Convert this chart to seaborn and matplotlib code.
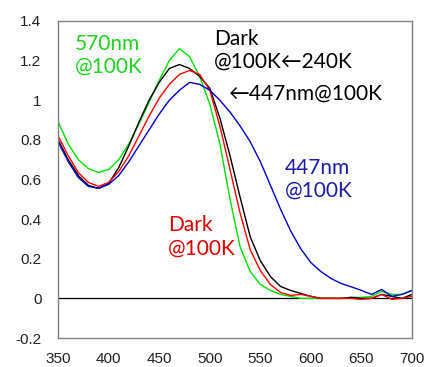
import numpy as np
import pandas as pd
import matplotlib
matplotlib.use('Agg')
import matplotlib.pyplot as plt
import seaborn as sns

# wavelength grid (nm)
wl = list(range(350, 701, 10))

green_570 = [0.89, 0.78, 0.70, 0.655, 0.635, 0.65, 0.70, 0.78, 0.88, 0.99,
             1.10, 1.20, 1.26, 1.22, 1.12, 0.98, 0.78, 0.50, 0.26, 0.135,
             0.07, 0.04, 0.02, 0.01, 0.0, 0.0, 0.0, 0.0, 0.0, 0.005,
             0.005, 0.01, 0.035, 0.02, 0.02, 0.04]
black_240 = [0.80, 0.70, 0.62, 0.57, 0.555, 0.58, 0.66, 0.77, 0.89, 1.00,
             1.09, 1.16, 1.18, 1.16, 1.12, 1.06, 0.91, 0.72, 0.51, 0.31,
             0.19, 0.11, 0.06, 0.04, 0.025, 0.01, 0.0, 0.0, 0.0, 0.005,
             0.0, 0.0, 0.02, 0.01, 0.0, 0.02]
red_dark = [0.82, 0.72, 0.635, 0.585, 0.565, 0.585, 0.64, 0.72, 0.82, 0.92,
            1.01, 1.08, 1.13, 1.15, 1.13, 1.05, 0.87, 0.65, 0.43, 0.245,
            0.14, 0.07, 0.03, 0.015, 0.02, 0.01, 0.0, 0.0, 0.0, 0.0,
            -0.005, 0.0, 0.02, -0.005, 0.0, 0.01]
blue_447 = [0.79, 0.69, 0.61, 0.565, 0.555, 0.575, 0.62, 0.69, 0.77, 0.85,
            0.93, 1.00, 1.05, 1.09, 1.08, 1.05, 1.00, 0.94, 0.87, 0.79,
            0.69, 0.57, 0.45, 0.34, 0.25, 0.18, 0.135, 0.10, 0.075, 0.058,
            0.04, 0.02, 0.045, 0.01, 0.02, 0.04]

series = {'570nm': green_570, 'Dark240': black_240, 'Dark': red_dark, '447nm': blue_447}
colors = {'570nm': '#00e000', 'Dark240': '#000000', 'Dark': '#ff0000', '447nm': '#0000c8'}

df = pd.concat([pd.DataFrame({'wl': wl, 'abs': v, 'cond': k}) for k, v in series.items()],
               ignore_index=True)

sns.set_style('white')
plt.rcParams['font.family'] = ['Liberation Sans', 'DejaVu Sans']

fig = plt.figure(figsize=(4.27, 3.67), dpi=100)
ax = fig.add_axes([0.136, 0.079, 0.829, 0.864])

sns.lineplot(data=df, x='wl', y='abs', hue='cond', palette=colors,
             linewidth=1.0, legend=False, estimator=None, ax=ax)
ax.axhline(0, color='black', linewidth=0.9, zorder=1)

ax.set_xlim(350, 700)
ax.set_ylim(-0.2, 1.4)
ax.set_xticks(range(350, 701, 50))
ax.set_yticks([-0.2, 0, 0.2, 0.4, 0.6, 0.8, 1.0, 1.2, 1.4])
ax.set_yticklabels(['-0.2', '0', '0.2', '0.4', '0.6', '0.8', '1', '1.2', '1.4'])
ax.set_xlabel('')
ax.set_ylabel('')
ax.tick_params(axis='x', direction='in', length=4, width=1, color='#808080',
               labelsize=11, pad=10, labelcolor='#222222')
ax.tick_params(axis='y', direction='out', length=3, width=1, color='#808080',
               labelsize=11, pad=9, labelcolor='#222222')
for s in ax.spines.values():
    s.set_color('#808080')
    s.set_linewidth(1.0)

tfont = ['Lato', 'DejaVu Sans']
ax.text(367, 1.335, '570nm\n@100K', color='#1ed21e', fontsize=15, family=tfont,
        va='top', ha='left', linespacing=1.2)
ax.text(504, 1.36, 'Dark\n@100K\u2190240K', color='black', fontsize=15, family=tfont,
        va='top', ha='left', linespacing=1.2)
ax.text(519, 1.035, '\u2190447nm@100K', color='black', fontsize=15, family=tfont,
        va='center', ha='left')
ax.text(574, 0.71, '447nm\n@100K', color='#1c1ca8', fontsize=15, family=tfont,
        va='top', ha='left', linespacing=1.2)
ax.text(459, 0.42, 'Dark\n@100K', color='#e00000', fontsize=15, family=tfont,
        va='top', ha='left', linespacing=1.2)

fig.savefig('out.png', dpi=100)
